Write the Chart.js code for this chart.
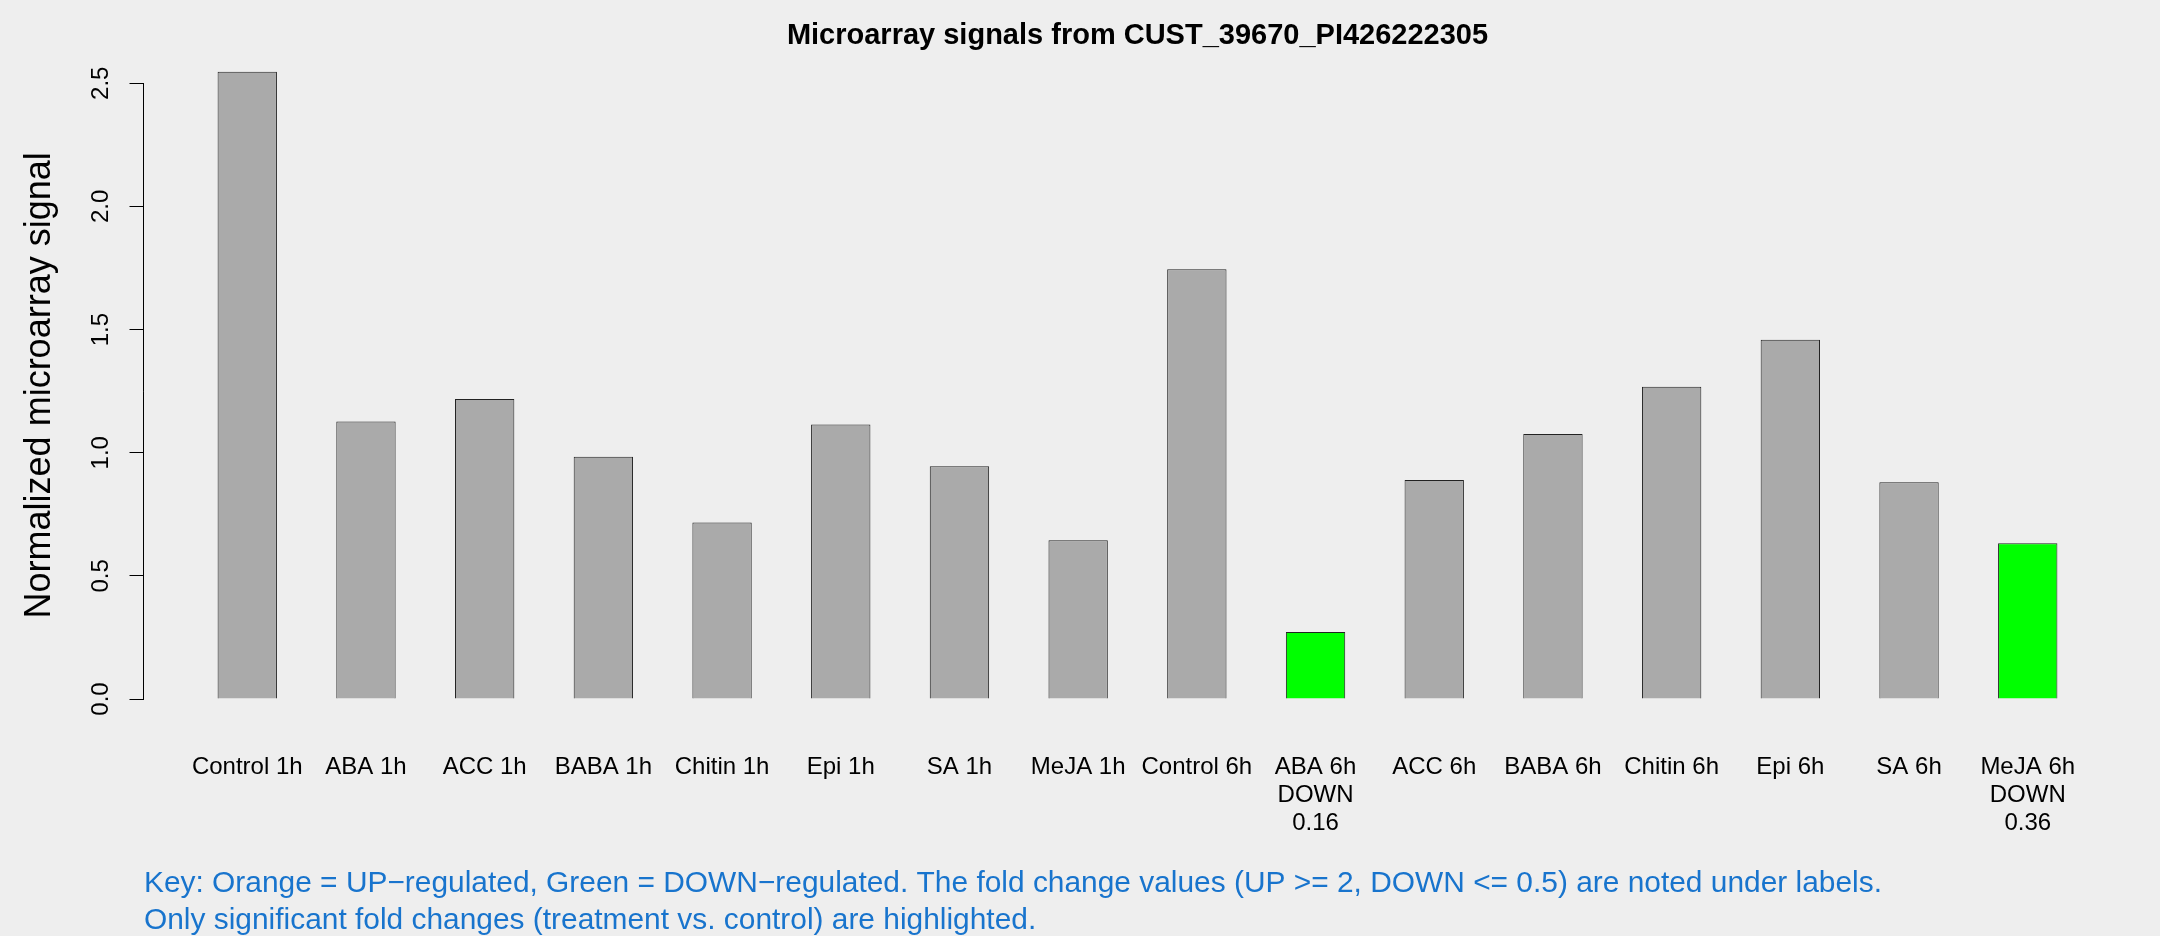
<!DOCTYPE html>
<html>
<head>
<meta charset="utf-8">
<script src="https://cdn.jsdelivr.net/npm/chart.js@4.4.1/dist/chart.umd.min.js"></script>
<style>
  html, body { margin: 0; padding: 0; background: #eeeeee; }
  #wrap { width: 2160px; height: 936px; position: relative; }
  canvas { display: block; }
</style>
</head>
<body>
<div id="wrap"><canvas id="c" width="2160" height="936"></canvas></div>
<script>
// ---- data ----
const chartTitle = "Microarray signals from CUST_39670_PI426222305";
const yAxisTitle = "Normalized microarray signal";
const categories = ["Control 1h","ABA 1h","ACC 1h","BABA 1h","Chitin 1h","Epi 1h","SA 1h","MeJA 1h",
                    "Control 6h","ABA 6h","ACC 6h","BABA 6h","Chitin 6h","Epi 6h","SA 6h","MeJA 6h"];
const signals = [2.547,1.127,1.218,0.984,0.717,1.115,0.945,0.645,
                 1.745,0.272,0.889,1.076,1.268,1.459,0.880,0.632];
const regulation = ["","","","","","","","",
                    "","DOWN","","","","","","DOWN"];
const foldChange = ["","","","","","","","",
                    "","0.16","","","","","","0.36"];
const yTickValues = [0, 0.5, 1.0, 1.5, 2.0, 2.5];
const yTickLabels = ["0.0","0.5","1.0","1.5","2.0","2.5"];
const keyLines = [
  "Key: Orange = UP\u2212regulated, Green = DOWN\u2212regulated. The fold change values (UP >= 2, DOWN <= 0.5) are noted under labels.",
  "Only significant fold changes (treatment vs. control) are highlighted."
];

// ---- derived (R barplot style: width 1, space 1) ----
const barCenters = categories.map((_, i) => 1.5 + 2 * i);
const barsLeft = 1, barsRight = 2 * categories.length;
const xPad = 0.04 * (barsRight - barsLeft);            // R's 4% axis extension
const xMin = barsLeft - xPad;
const xMax = barsRight + xPad;
const yMaxVal = Math.max(...signals);
const yMin = -0.04 * yMaxVal;
const yMax = yMaxVal * 1.04;
const colorFor = r => r === "DOWN" ? "#00ff00" : (r === "UP" ? "#ffa500" : "#aaaaaa");

const points = signals.map((v, i) => ({ x: barCenters[i], y: v }));

const bgPlugin = {
  id: 'bg',
  beforeDraw(chart) {
    const ctx = chart.ctx;
    ctx.save();
    ctx.fillStyle = '#eeeeee';
    ctx.fillRect(0, 0, chart.width, chart.height);
    ctx.restore();
  }
};
const yAxisLinePlugin = {
  id: 'yAxisLine',
  afterDraw(chart) {
    const s = chart.scales.y;
    const ctx = chart.ctx;
    const x = Math.round(s.right) - 0.5;
    ctx.save();
    ctx.strokeStyle = '#000';
    ctx.lineWidth = 1;
    ctx.beginPath();
    ctx.moveTo(x, s.getPixelForValue(yTickValues[0]));
    ctx.lineTo(x, s.getPixelForValue(yTickValues[yTickValues.length - 1]));
    ctx.stroke();
    ctx.restore();
  }
};

new Chart(document.getElementById('c'), {
  type: 'bar',
  data: {
    datasets: [{
      data: points,
      backgroundColor: regulation.map(colorFor),
      borderColor: '#222222',
      borderWidth: 1,
      barPercentage: 0.5,
      categoryPercentage: 1.0
    }]
  },
  options: {
    responsive: false,
    animation: false,
    devicePixelRatio: 1,
    layout: { padding: { left: 0, right: 29, top: 0, bottom: 0 } },
    plugins: {
      legend: { display: false },
      tooltip: { enabled: false },
      title: {
        display: true,
        text: chartTitle,
        fullSize: false,
        color: '#000',
        font: { family: 'Liberation Sans, Arial, sans-serif', size: 29, weight: 'bold', lineHeight: 0.6 },
        padding: { top: 27.2, bottom: 2 }
      },
      subtitle: {
        display: true,
        position: 'bottom',
        align: 'start',
        fullSize: false,
        text: keyLines,
        color: '#1874cd',
        font: { family: 'Liberation Sans, Arial, sans-serif', size: 29.9, weight: 'normal', lineHeight: '36.7px' },
        padding: { top: 0, bottom: -2.95 }
      }
    },
    scales: {
      x: {
        type: 'linear',
        position: 'bottom',
        min: xMin,
        max: xMax,
        offset: false,
        grid: { display: false, drawTicks: false },
        border: { display: false },
        afterBuildTicks: s => { s.ticks = barCenters.map(v => ({ value: v })); },
        afterFit: s => { s.height = 141.45; },
        ticks: {
          autoSkip: false,
          maxRotation: 0,
          minRotation: 0,
          padding: 28.8,
          color: '#000',
          font: { family: 'Liberation Sans, Arial, sans-serif', size: 24, lineHeight: 1.18 },
          callback: (value) => {
            const i = barCenters.indexOf(value);
            if (i < 0) return '';
            const lines = [categories[i]];
            if (regulation[i]) lines.push(regulation[i]);
            if (foldChange[i]) lines.push(foldChange[i]);
            return lines.length > 1 ? lines : lines[0];
          }
        }
      },
      y: {
        type: 'linear',
        position: 'left',
        min: yMin,
        max: yMax,
        grid: { display: true, drawOnChartArea: false, drawTicks: true, tickLength: 14.5, color: '#000', lineWidth: 1 },
        border: { display: false },
        afterBuildTicks: s => { s.ticks = yTickValues.map(v => ({ value: v })); },
        afterFit: s => { s.width = 144; },
        title: {
          display: true,
          text: yAxisTitle,
          color: '#000',
          font: { family: 'Liberation Sans, Arial, sans-serif', size: 36, lineHeight: 1.2 },
          padding: { top: 18.6, bottom: 0 }
        },
        ticks: {
          minRotation: 90,
          maxRotation: 90,
          crossAlign: 'center',
          padding: 11.1,
          color: '#000',
          font: { family: 'Liberation Sans, Arial, sans-serif', size: 24 },
          callback: (value) => {
            const i = yTickValues.indexOf(value);
            return i >= 0 ? yTickLabels[i] : '';
          }
        }
      }
    }
  },
  plugins: [bgPlugin, yAxisLinePlugin]
});
</script>
</body>
</html>
